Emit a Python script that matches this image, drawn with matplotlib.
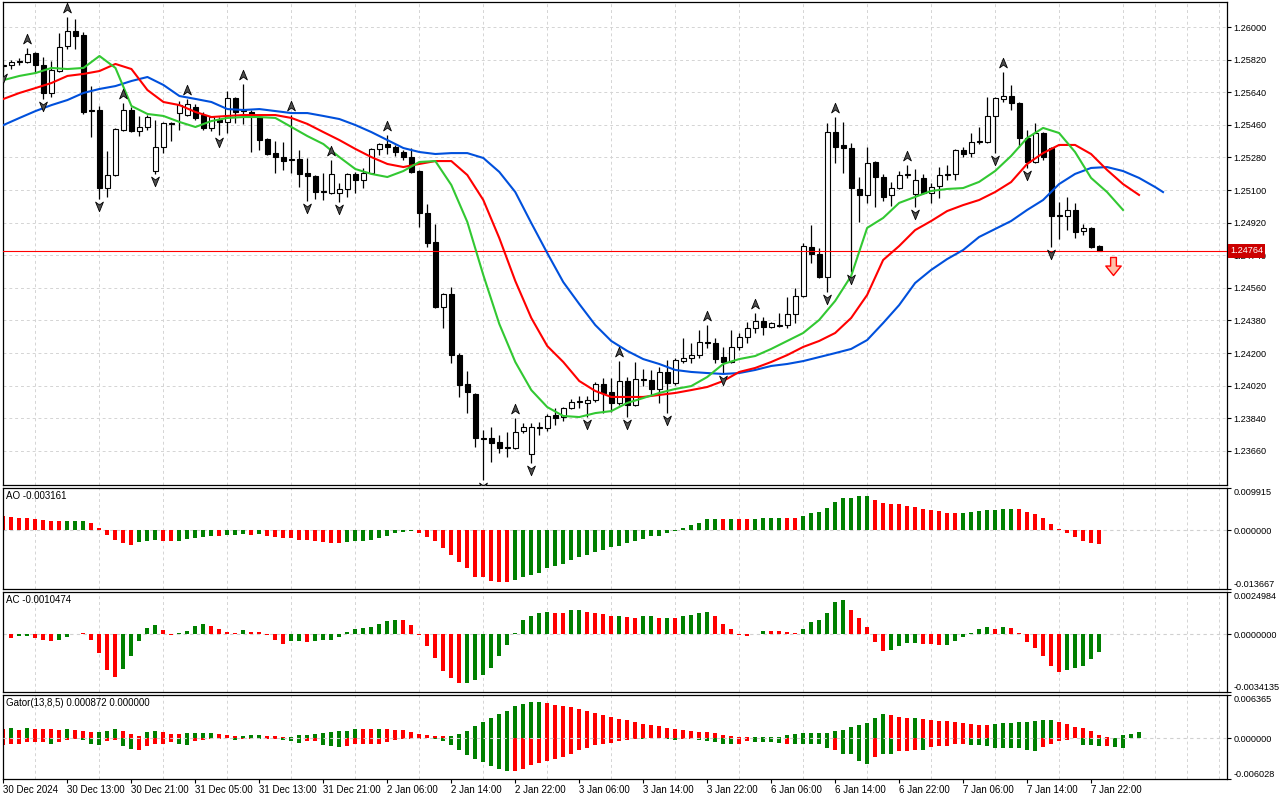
import numpy as np
import matplotlib.pyplot as plt
from matplotlib.path import Path
from matplotlib.transforms import offset_copy

plt.rcParams["font.family"] = ["Liberation Sans", "DejaVu Sans"]
plt.rcParams["font.size"] = 7

# =========================
# 1. Price data (H1 bars, 30 Dec 2024 -> 7 Jan 2025)
# =========================
opens = [
    1.25785, 1.25790, 1.25807, 1.25807, 1.25856, 1.25790, 1.25636, 1.25757, 1.25895, 1.25978,
    1.25956, 1.25542, 1.25542, 1.25111, 1.25183, 1.25431, 1.25542, 1.25426, 1.25448, 1.25205,
    1.25338, 1.25470, 1.25525, 1.25514, 1.25558, 1.25514, 1.25442, 1.25487, 1.25476, 1.25608,
    1.25542, 1.25531, 1.25503, 1.25382, 1.25304, 1.25282, 1.25271, 1.25271, 1.25194, 1.25178,
    1.25095, 1.25084, 1.25084, 1.25106, 1.25189, 1.25156, 1.25194, 1.25327, 1.25354, 1.25338,
    1.25310, 1.25282, 1.25205, 1.24973, 1.24813, 1.24454, 1.24527, 1.24189, 1.24030, 1.23974,
    1.23731, 1.23731, 1.23709, 1.23676, 1.23676, 1.23770, 1.23643, 1.23786, 1.23786, 1.23858,
    1.23847, 1.23897, 1.23930, 1.23925, 1.23941, 1.24030, 1.23985, 1.23925, 1.24046, 1.23914,
    1.24051, 1.24051, 1.24002, 1.24096, 1.24035, 1.24156, 1.24173, 1.24189, 1.24256, 1.24256,
    1.24178, 1.24151, 1.24234, 1.24289, 1.24338, 1.24377, 1.24344, 1.24349, 1.24355, 1.24416,
    1.24516, 1.24786, 1.24749, 1.24620, 1.25420, 1.25349, 1.25332, 1.25106, 1.25073, 1.25255,
    1.25172, 1.25073, 1.25111, 1.25183, 1.25078, 1.25167, 1.25084, 1.25122, 1.25183, 1.25189,
    1.25321, 1.25304, 1.25365, 1.25365, 1.25509, 1.25603, 1.25619, 1.25580, 1.25387, 1.25255,
    1.25415, 1.25332, 1.24962, 1.24956, 1.24990, 1.24874, 1.24890, 1.24791,
]
highs = [
    1.25796, 1.25818, 1.25829, 1.25884, 1.25862, 1.25834, 1.25812, 1.25967, 1.26055, 1.26045,
    1.25972, 1.25674, 1.25564, 1.25316, 1.25442, 1.25580, 1.25558, 1.25509, 1.25514, 1.25487,
    1.25476, 1.25476, 1.25592, 1.25603, 1.25575, 1.25531, 1.25509, 1.25503, 1.25647, 1.25614,
    1.25685, 1.25542, 1.25514, 1.25387, 1.25371, 1.25365, 1.25514, 1.25321, 1.25277, 1.25183,
    1.25194, 1.25266, 1.25139, 1.25194, 1.25200, 1.25222, 1.25332, 1.25360, 1.25404, 1.25349,
    1.25321, 1.25332, 1.25211, 1.25023, 1.24913, 1.24532, 1.24565, 1.24200, 1.24101, 1.23980,
    1.23775, 1.23792, 1.23748, 1.23764, 1.23842, 1.23814, 1.23814, 1.23820, 1.23864, 1.23897,
    1.23902, 1.23946, 1.23963, 1.23963, 1.24040, 1.24062, 1.24062, 1.24156, 1.24068, 1.24151,
    1.24112, 1.24107, 1.24123, 1.24162, 1.24173, 1.24283, 1.24256, 1.24327, 1.24355, 1.24283,
    1.24234, 1.24327, 1.24311, 1.24372, 1.24421, 1.24399, 1.24372, 1.24421, 1.24510, 1.24559,
    1.24808, 1.24907, 1.24780, 1.25470, 1.25503, 1.25476, 1.25360, 1.25172, 1.25338, 1.25260,
    1.25189, 1.25145, 1.25205, 1.25238, 1.25216, 1.25189, 1.25139, 1.25227, 1.25238, 1.25327,
    1.25338, 1.25415, 1.25448, 1.25614, 1.25614, 1.25752, 1.25680, 1.25586, 1.25431, 1.25470,
    1.25420, 1.25338, 1.25034, 1.25062, 1.25029, 1.24913, 1.24896, 1.24797,
]
lows = [
    1.25755, 1.25768, 1.25790, 1.25801, 1.25746, 1.25603, 1.25614, 1.25752, 1.25879, 1.25879,
    1.25520, 1.25393, 1.25051, 1.25062, 1.25178, 1.25426, 1.25420, 1.25398, 1.25431, 1.25189,
    1.25304, 1.25371, 1.25431, 1.25509, 1.25487, 1.25431, 1.25426, 1.25404, 1.25415, 1.25470,
    1.25465, 1.25310, 1.25321, 1.25293, 1.25194, 1.25211, 1.25194, 1.25117, 1.25040, 1.25051,
    1.25045, 1.25078, 1.25034, 1.25062, 1.25084, 1.25111, 1.25189, 1.25293, 1.25299, 1.25288,
    1.25266, 1.25194, 1.24896, 1.24786, 1.24449, 1.24338, 1.24145, 1.23958, 1.23869, 1.23682,
    1.23499, 1.23599, 1.23648, 1.23626, 1.23670, 1.23759, 1.23593, 1.23748, 1.23770, 1.23803,
    1.23825, 1.23891, 1.23897, 1.23847, 1.23930, 1.23869, 1.23875, 1.23914, 1.23847, 1.23908,
    1.24019, 1.23969, 1.23925, 1.23869, 1.24024, 1.24145, 1.24145, 1.24173, 1.24228, 1.24145,
    1.24090, 1.24145, 1.24217, 1.24256, 1.24311, 1.24300, 1.24338, 1.24344, 1.24338, 1.24366,
    1.24510, 1.24697, 1.24614, 1.24537, 1.25249, 1.25194, 1.24648, 1.24924, 1.25029, 1.25006,
    1.25040, 1.25012, 1.25106, 1.25167, 1.25006, 1.25078, 1.25029, 1.25056, 1.25156, 1.25156,
    1.25282, 1.25282, 1.25354, 1.25360, 1.25304, 1.25586, 1.25542, 1.25338, 1.25222, 1.25249,
    1.25266, 1.24786, 1.24830, 1.24880, 1.24835, 1.24852, 1.24780, 1.24764,
]
closes = [
    1.25790, 1.25807, 1.25812, 1.25851, 1.25790, 1.25636, 1.25763, 1.25890, 1.25978, 1.25950,
    1.25531, 1.25536, 1.25111, 1.25183, 1.25437, 1.25542, 1.25426, 1.25448, 1.25503, 1.25338,
    1.25470, 1.25465, 1.25569, 1.25575, 1.25498, 1.25442, 1.25503, 1.25476, 1.25608, 1.25531,
    1.25536, 1.25509, 1.25376, 1.25299, 1.25282, 1.25260, 1.25266, 1.25189, 1.25178, 1.25089,
    1.25089, 1.25189, 1.25106, 1.25189, 1.25156, 1.25194, 1.25327, 1.25354, 1.25338, 1.25310,
    1.25282, 1.25200, 1.24973, 1.24808, 1.24454, 1.24527, 1.24189, 1.24024, 1.23985, 1.23731,
    1.23726, 1.23703, 1.23676, 1.23682, 1.23764, 1.23792, 1.23792, 1.23792, 1.23853, 1.23842,
    1.23897, 1.23930, 1.23936, 1.23941, 1.24030, 1.23980, 1.23925, 1.24046, 1.23914, 1.24057,
    1.24057, 1.24002, 1.24096, 1.24035, 1.24162, 1.24173, 1.24189, 1.24261, 1.24261, 1.24167,
    1.24151, 1.24234, 1.24289, 1.24338, 1.24377, 1.24344, 1.24366, 1.24355, 1.24416, 1.24516,
    1.24791, 1.24749, 1.24620, 1.25420, 1.25338, 1.25332, 1.25111, 1.25073, 1.25249, 1.25172,
    1.25062, 1.25111, 1.25183, 1.25189, 1.25156, 1.25084, 1.25117, 1.25183, 1.25189, 1.25321,
    1.25299, 1.25365, 1.25371, 1.25509, 1.25608, 1.25619, 1.25580, 1.25387, 1.25255, 1.25415,
    1.25282, 1.24956, 1.24956, 1.24990, 1.24868, 1.24890, 1.24786, 1.24764,
]

# Alligator lines, read every second bar (jaw/teeth/lips are drawn shifted forward)
jaw = [
    1.25459, 1.25498, 1.25536, 1.25569, 1.25597, 1.25636, 1.25658, 1.25674, 1.25702, 1.25724,
    1.25680, 1.25619, 1.25603, 1.25586, 1.25547, 1.25542, 1.25547, 1.25536, 1.25525, 1.25525,
    1.25509, 1.25492, 1.25459, 1.25420, 1.25376, 1.25332, 1.25310, 1.25299, 1.25304, 1.25304,
    1.25277, 1.25200, 1.25089, 1.24918, 1.24752, 1.24592, 1.24471, 1.24355, 1.24267, 1.24212,
    1.24167, 1.24140, 1.24107, 1.24096, 1.24090, 1.24085, 1.24090, 1.24107, 1.24129, 1.24140,
    1.24156, 1.24178, 1.24200, 1.24223, 1.24272, 1.24366, 1.24465, 1.24587, 1.24659, 1.24719,
    1.24769, 1.24841, 1.24885, 1.24929, 1.24990, 1.25045, 1.25133, 1.25189, 1.25222, 1.25227,
    1.25205, 1.25167, 1.25117, 1.25089,
]
teeth = [
    1.25603, 1.25636, 1.25663, 1.25691, 1.25730, 1.25741, 1.25757, 1.25796, 1.25768, 1.25652,
    1.25586, 1.25569, 1.25531, 1.25503, 1.25509, 1.25514, 1.25514, 1.25514, 1.25498, 1.25465,
    1.25420, 1.25376, 1.25327, 1.25282, 1.25244, 1.25227, 1.25244, 1.25260, 1.25260, 1.25183,
    1.25045, 1.24835, 1.24598, 1.24394, 1.24239, 1.24151, 1.24046, 1.23991, 1.23958, 1.23958,
    1.23958, 1.23969, 1.23980, 1.23996, 1.24013, 1.24046, 1.24096, 1.24118, 1.24151, 1.24189,
    1.24234, 1.24267, 1.24311, 1.24394, 1.24521, 1.24714, 1.24791, 1.24879, 1.24929, 1.24984,
    1.25017, 1.25045, 1.25089, 1.25144, 1.25244, 1.25304, 1.25349, 1.25349, 1.25299, 1.25211,
    1.25133, 1.25073,
]
lips = [
    1.25707, 1.25730, 1.25746, 1.25774, 1.25768, 1.25774, 1.25840, 1.25774, 1.25564, 1.25520,
    1.25509, 1.25476, 1.25448, 1.25481, 1.25498, 1.25503, 1.25503, 1.25498, 1.25448, 1.25398,
    1.25354, 1.25282, 1.25216, 1.25189, 1.25172, 1.25205, 1.25255, 1.25260, 1.25128, 1.24924,
    1.24631, 1.24361, 1.24151, 1.23996, 1.23902, 1.23853, 1.23847, 1.23869, 1.23880, 1.23925,
    1.23952, 1.23980, 1.24002, 1.24018, 1.24068, 1.24140, 1.24167, 1.24184, 1.24223, 1.24267,
    1.24311, 1.24383, 1.24488, 1.24626, 1.24891, 1.24946, 1.25029, 1.25062, 1.25095, 1.25106,
    1.25111, 1.25145, 1.25205, 1.25288, 1.25387, 1.25443, 1.25415, 1.25310, 1.25167, 1.25089,
    1.24990,
]
jaw_bars = list(range(0, 145, 2)) + [145]
teeth_bars = list(range(0, 143, 2))
lips_bars = list(range(0, 141, 2))

fractal_up_bars = [3, 8, 15, 23, 30, 36, 41, 48, 64, 77, 88, 94, 104, 113, 125]
fractal_down_bars = [0, 5, 12, 19, 27, 38, 42, 60, 66, 73, 78, 83, 90, 103, 106, 114, 124, 128, 131]

sell_bar, sell_price = 138.75, 1.24680

price_ticks = [1.23660, 1.23840, 1.24020, 1.24200, 1.24380, 1.24560, 1.24740,
               1.24920, 1.25100, 1.25280, 1.25460, 1.25640, 1.25820, 1.26000]
price_range = (1.23472, 1.26138)

time_label_bars = list(range(0, 137, 8))
time_labels = ["30 Dec 2024", "30 Dec 13:00", "30 Dec 21:00", "31 Dec 05:00", "31 Dec 13:00",
               "31 Dec 21:00", "2 Jan 06:00", "2 Jan 14:00", "2 Jan 22:00", "3 Jan 06:00",
               "3 Jan 14:00", "3 Jan 22:00", "6 Jan 06:00", "6 Jan 14:00", "6 Jan 22:00",
               "7 Jan 06:00", "7 Jan 14:00", "7 Jan 22:00"]

# =========================
# 2. Oscillators (values + bar colours as shown, g = up, r = down)
# =========================
ao = [
    0.0033, 0.00307, 0.00291, 0.00283, 0.00267, 0.00236, 0.00225, 0.00218, 0.0022, 0.00221,
    0.00223, 0.00173, 0.00055, -0.00102, -0.0022, -0.0029, -0.0033, -0.00275, -0.00236, -0.00234,
    -0.00238, -0.00251, -0.00236, -0.00197, -0.00173, -0.00141, -0.00118, -0.0012, -0.00116, -0.00102,
    -0.00094, -0.00097, -0.00086, -0.00118, -0.00141, -0.00181, -0.00183, -0.00212, -0.0022, -0.00252,
    -0.00275, -0.00299, -0.003, -0.00275, -0.00252, -0.00236, -0.00212, -0.00173, -0.00118, -0.00063,
    -0.00031, -0.00024, -0.00055, -0.00157, -0.00252, -0.00417, -0.00566, -0.00731, -0.00865, -0.01077,
    -0.01085, -0.01179, -0.01203, -0.01205, -0.01155, -0.01077, -0.01038, -0.00998, -0.00888, -0.00841,
    -0.00786, -0.00684, -0.00629, -0.00566, -0.00511, -0.00448, -0.00393, -0.00354, -0.00299, -0.00252,
    -0.00197, -0.00134, -0.00118, -0.00063, -0.00016, 0.00055, 0.00118, 0.00173, 0.00259, 0.00275,
    0.00259, 0.00275, 0.00262, 0.00259, 0.00275, 0.00283, 0.00285, 0.00287, 0.00283, 0.0028,
    0.0033, 0.00409, 0.00432, 0.00527, 0.00668, 0.00747, 0.0075, 0.00802, 0.00805, 0.00707,
    0.00644, 0.00613, 0.0061, 0.00574, 0.0055, 0.00495, 0.00472, 0.00448, 0.00409, 0.00406,
    0.00409, 0.00432, 0.00456, 0.00472, 0.00474, 0.00495, 0.00511, 0.00495, 0.00432, 0.00377,
    0.00291, 0.00141, 0.00024, -0.00063, -0.00157, -0.00252, -0.00299, -0.003161,
]
ao_codes = ("rrrrrrrrgg" "grrrrrrggg" "rrgggggrgg" "grgrrrrrrr" "rrrggggggg"
            "ggrrrrrrrr" "rrrrgggggg" "gggggggggg" "gggggggggg" "rgrrggggrr"
            "gggggggggr" "rrrrrrrrrr" "gggggggrrr" "rrrrrrrr")
ao_range = (-0.013667, 0.009915)

ac = [
    0.00002, -0.0002, -0.0001, -0.00009, -0.0002, -0.00033, -0.00039, -0.00033, -0.00016, 0.00004,
    0.00006, -0.00033, -0.00108, -0.00211, -0.00252, -0.00207, -0.00128, -0.00039, 0.00039, 0.00053,
    0.00026, -0.00004, 0.00006, 0.0002, 0.00049, 0.00059, 0.00049, 0.0003, 0.00014, 0.00008,
    0.00024, 0.00016, 0.00014, -0.00004, -0.00033, -0.00059, -0.00039, -0.00039, -0.00045, -0.00039,
    -0.00033, -0.00033, -0.00016, 0.00014, 0.0003, 0.00039, 0.0004, 0.00059, 0.00079, 0.00083,
    0.00085, 0.00055, -0.00004, -0.00069, -0.00138, -0.00217, -0.00256, -0.0029, -0.00288, -0.0027,
    -0.0024, -0.00201, -0.00128, -0.00063, 0.00006, 0.00085, 0.00108, 0.00124, 0.00132, 0.00124,
    0.00123, 0.00142, 0.00144, 0.00132, 0.00124, 0.00118, 0.00106, 0.00107, 0.001, 0.00095,
    0.00106, 0.00107, 0.00095, 0.00096, 0.00094, 0.00106, 0.00112, 0.00124, 0.00132, 0.00106,
    0.00059, 0.0003, -0.00006, -0.0001, 0.00002, 0.00018, 0.00017, 0.00017, 0.00012, 0.00006,
    0.0003, 0.00073, 0.00083, 0.00124, 0.00193, 0.00201, 0.00142, 0.00099, 0.00045, -0.00045,
    -0.00099, -0.00093, -0.00069, -0.00053, -0.00052, -0.00059, -0.0006, -0.00065, -0.00064, -0.00039,
    -0.00016, 0.0001, 0.0003, 0.00041, 0.0003, 0.00041, 0.00035, 0.00006, -0.00045, -0.00083,
    -0.0013, -0.00189, -0.00222, -0.00211, -0.00201, -0.00189, -0.00148, -0.0010474,
]
ac_codes = ("grggrrrggr" "rrrrrggggg" "rrggggrrrr" "grrrrrggrg" "gggggggggg"
            "rrrrrrrrgg" "gggggggggr" "rggrrrrgrr" "ggrgrggggr" "rrrrggrrrr"
            "ggggggrrrr" "rggggrrrgg" "ggggrgrrrr" "rrrggggg")
ac_range = (-0.0034135, 0.0024984)

gator_up = [
    0.00133, 0.00148, 0.00123, 0.00148, 0.00138, 0.00133, 0.0013, 0.00123, 0.00138, 0.00113,
    0.00098, 0.00089, 0.0009, 0.00108, 0.00133, 0.00098, 0.00064, 0.00025, 0.00093, 0.00108,
    0.00093, 0.00064, 0.00062, 0.00074, 0.00075, 0.00079, 0.0008, 0.00059, 0.00044, 0.00034,
    0.00035, 0.00039, 0.00049, 0.00034, 0.00033, 0.00015, 0.00016, 0.00039, 0.0004, 0.00064,
    0.00079, 0.00084, 0.00098, 0.00108, 0.00138, 0.00137, 0.00136, 0.00138, 0.00137, 0.00123,
    0.0012, 0.00089, 0.00064, 0.00049, 0.00034, 0.00033, 0.00034, 0.00064, 0.00108, 0.00172,
    0.00236, 0.00295, 0.00359, 0.00403, 0.00467, 0.00507, 0.00526, 0.00536, 0.00517, 0.00492,
    0.00477, 0.00453, 0.00433, 0.00394, 0.00369, 0.00344, 0.0031, 0.00285, 0.00261, 0.00236,
    0.00212, 0.00187, 0.00172, 0.00157, 0.00138, 0.00123, 0.00108, 0.00089, 0.00088, 0.00074,
    0.00049, 0.00025, 0.00015, 0.00014, 0.00016, 0.00017, 0.00018, 0.00019, 0.00049, 0.00064,
    0.00074, 0.00075, 0.00076, 0.00077, 0.00098, 0.00123, 0.00162, 0.00197, 0.00221, 0.00295,
    0.00354, 0.00344, 0.0031, 0.00295, 0.00297, 0.0028, 0.00261, 0.00251, 0.00246, 0.00236,
    0.00221, 0.00207, 0.00197, 0.00196, 0.00212, 0.00221, 0.00222, 0.00231, 0.00236, 0.00246,
    0.00271, 0.00272, 0.00236, 0.00207, 0.00162, 0.00148, 0.00108, 0.00049, 0.00015, 0.00003,
    0.00039, 0.00064, 0.000872,
]
gator_up_codes = ("rgrgrrrrgr" "rrgggrrrgg" "rrrggggrrr" "gggrrrgggg" "gggggrrgrr"
                  "rrrrrrgggg" "ggggggggrr" "rrrrrrrrrr" "rrrrrrrrrr" "rrrrgggggg"
                  "gggggggggg" "grrrgrrrrr" "rrrrgggggg" "ggrrrrrrrr" "ggg")
gator_down = [
    -0.00098, -0.00089, -0.00089, -0.00064, -0.00064, -0.00064, -0.00084, -0.00059, -0.00034, -0.00015,
    -0.0003, -0.00084, -0.00098, -0.00049, -0.00025, -0.00113, -0.00167, -0.0017, -0.00113, -0.00084,
    -0.00083, -0.00064, -0.00084, -0.00098, -0.00039, -0.00025, -0.0001, -0.00009, -0.00003, -0.00025,
    -0.00015, -0.0001, -0.00011, -0.0001, -0.00006, -0.00025, -0.00039, -0.00074, -0.00049, -0.00048,
    -0.00098, -0.00123, -0.00124, -0.00122, -0.00089, -0.00088, -0.00087, -0.00084, -0.00059, -0.00034,
    -0.0002, -0.00012, -0.0001, -0.00005, -0.00015, -0.00039, -0.00098, -0.00172, -0.00256, -0.00305,
    -0.00359, -0.00418, -0.00453, -0.00492, -0.00482, -0.00453, -0.00394, -0.00369, -0.00335, -0.00305,
    -0.00271, -0.00231, -0.00182, -0.00148, -0.00098, -0.00084, -0.00074, -0.00049, -0.00034, -0.0001,
    -0.00011, -0.00005, -0.00002, -0.00015, -0.00025, -0.0001, -0.00009, -0.00025, -0.00049, -0.00064,
    -0.00084, -0.00089, -0.00084, -0.00049, -0.0005, -0.00059, -0.00064, -0.00074, -0.00084, -0.00085,
    -0.00086, -0.00087, -0.00088, -0.00148, -0.00182, -0.00231, -0.00232, -0.00335, -0.00379, -0.00285,
    -0.00231, -0.00236, -0.00197, -0.00196, -0.00172, -0.00173, -0.00138, -0.00123, -0.00113, -0.00084,
    -0.00083, -0.00098, -0.00099, -0.00113, -0.00148, -0.00149, -0.0015, -0.00151, -0.00182, -0.00197,
    -0.00138, -0.00084, -0.00039, -0.00034, -0.00003, -0.00098, -0.00108, -0.00123, -0.00113, -0.00133,
    -0.00148,
]
gator_down_codes = ("rrrrrrgrrr" "gggrrggrrr" "rrggrrrrrg" "rrgrrgggrr" "gggrrrrrrr"
                    "rrrrgggggg" "ggggrrrrrr" "rrrrrrrrrr" "grrggrrggg" "ggrrggggrg"
                    "ggggrggggr" "ggrrrgrrrr" "rggggggggg" "rrrrrgggrgg")
gator_range = (-0.006028, 0.006365)

# =========================
# 3. Figure layout (MetaTrader style: price window + 3 sub-windows)
# =========================
GREEN, RED = "#008000", "#ff0000"
GRID = dict(color="#d4d4d4", linestyle=(0, (3, 3)), linewidth=0.7)
LABEL_SIZE = 6.6


def code_colors(codes):
    return [GREEN if ch == "g" else RED for ch in codes]


fig = plt.figure(figsize=(12.8, 8), dpi=100)
left, width = 2.5 / 1280, 1224.5 / 1280
ax = fig.add_axes([left, 0.39375, width, 0.60375])
ax_ao = fig.add_axes([left, 0.26375, width, 0.12625], sharex=ax)
ax_ac = fig.add_axes([left, 0.135, width, 0.125], sharex=ax)
ax_gt = fig.add_axes([left, 0.02625, width, 0.105], sharex=ax)
all_axes = [ax, ax_ao, ax_ac, ax_gt]

x = np.arange(len(closes))
o, h, l, c = map(np.array, (opens, highs, lows, closes))

# candles
bull = c >= o
ax.vlines(x, l, h, color="black", linewidth=0.9, zorder=2)
ax.bar(x, np.maximum(np.abs(c - o), 0.000012), bottom=np.minimum(o, c), width=0.62,
       color=np.where(bull, "white", "black"), edgecolor="black", linewidth=0.8, zorder=3)

# alligator
ax.plot(jaw_bars, jaw, color="#0050dc", linewidth=1.5, zorder=4)
ax.plot(teeth_bars, teeth, color="#ff0000", linewidth=1.5, zorder=4)
ax.plot(lips_bars, lips, color="#32c832", linewidth=1.5, zorder=4)

# fractals
arrow_up = Path([(0, 1), (0.75, -0.85), (0, -0.3), (-0.75, -0.85), (0, 1)],
                [Path.MOVETO, Path.LINETO, Path.LINETO, Path.LINETO, Path.CLOSEPOLY])
arrow_down = Path(arrow_up.vertices * [1, -1], arrow_up.codes)
ax.plot(fractal_up_bars, h[fractal_up_bars], linestyle="none", marker=arrow_up, ms=7.5,
        mfc="#505050", mec="black", mew=0.6, zorder=5,
        transform=offset_copy(ax.transData, fig=fig, y=6.5, units="points"))
ax.plot(fractal_down_bars, l[fractal_down_bars], linestyle="none", marker=arrow_down, ms=7.5,
        mfc="#505050", mec="black", mew=0.6, zorder=5,
        transform=offset_copy(ax.transData, fig=fig, y=-5, units="points"))

# sell signal arrow
block_down = Path([(-0.32, 1), (0.32, 1), (0.32, 0.05), (0.85, 0.05), (0, -1),
                   (-0.85, 0.05), (-0.32, 0.05), (-0.32, 1)],
                  [Path.MOVETO] + [Path.LINETO] * 6 + [Path.CLOSEPOLY])
ax.plot(sell_bar, sell_price, marker=block_down, ms=13, mfc="#ffc0a8", mec="#ff0000",
        mew=1.0, zorder=6, clip_on=False)

# bid line + label
ax.axhline(closes[-1], color="#ff0000", linewidth=0.8, zorder=3.5)
ax.annotate(f"{closes[-1]:.5f}", xy=(1, closes[-1]), xycoords=("axes fraction", "data"),
            xytext=(2.2, 0), textcoords="offset points", ha="left", va="center",
            color="white", fontsize=LABEL_SIZE, annotation_clip=False, zorder=10,
            bbox=dict(boxstyle="square,pad=0.25", fc="#cc0000", ec="none"))

ax.set_ylim(*price_range)
ax.set_yticks(price_ticks)
ax.set_yticklabels([f"{p:.5f}" for p in price_ticks])
ax.grid(axis="y", **GRID)

# sub-windows
ax_ao.bar(x, ao, width=0.5, color=code_colors(ao_codes), zorder=2)
ax_ac.bar(x, ac, width=0.5, color=code_colors(ac_codes), zorder=2)
ax_gt.bar(np.arange(len(gator_up)), gator_up, width=0.5, color=code_colors(gator_up_codes), zorder=2)
ax_gt.bar(np.arange(len(gator_down)), gator_down, width=0.5, color=code_colors(gator_down_codes), zorder=2)

sub = [(ax_ao, ao_range, 6, "AO -0.003161", 1),
       (ax_ac, ac_range, 7, "AC -0.0010474", 1),
       (ax_gt, gator_range, 6, "Gator(13,8,5) 0.000872 0.000000", 3)]
for a, (lo, hi), dec, title, zline in sub:
    a.set_ylim(lo, hi)
    a.set_yticks([lo, 0.0, hi])
    a.set_yticklabels([f"{v:.{dec}f}" for v in (lo, 0.0, hi)])
    a.axhline(0, color="#d0d0d0", linestyle=(0, (3, 3)), linewidth=0.8, zorder=zline)
    a.annotate(title, xy=(0, 1), xycoords="axes fraction", xytext=(2.5, -2.5),
               textcoords="offset points", ha="left", va="top", fontsize=7)

# shared x axis: vertical grid every 4 bars, time labels every 8 bars
ax.set_xlim(-0.125, 153)
ax.set_xticks(np.arange(0, 154, 4), minor=True)
ax_gt.set_xticks(time_label_bars)
ax_gt.set_xticklabels(time_labels, ha="left")

for a in all_axes:
    a.grid(axis="x", which="minor", **GRID)
    a.yaxis.tick_right()
    a.tick_params(axis="y", direction="out", length=3, width=0.8, pad=1.5, labelsize=LABEL_SIZE)
    a.tick_params(axis="x", which="minor", length=0)
    for s in a.spines.values():
        s.set_linewidth(0.9)
        s.set_color("black")
    a.set_axisbelow(True)
for a in [ax, ax_ao, ax_ac]:
    a.tick_params(axis="x", which="major", length=0, labelbottom=False)
ax_gt.tick_params(axis="x", which="major", direction="out", length=3, width=0.8, pad=1.5, labelsize=7)

# keep the min/max labels of each sub-window inside its own band
for a, _, _, _, _ in sub:
    ticks = a.yaxis.get_major_ticks()
    ticks[0].label2.set_va("bottom")
    ticks[-1].label2.set_va("top")

plt.savefig("out.png", dpi=100)
print("Saved: out.png")
